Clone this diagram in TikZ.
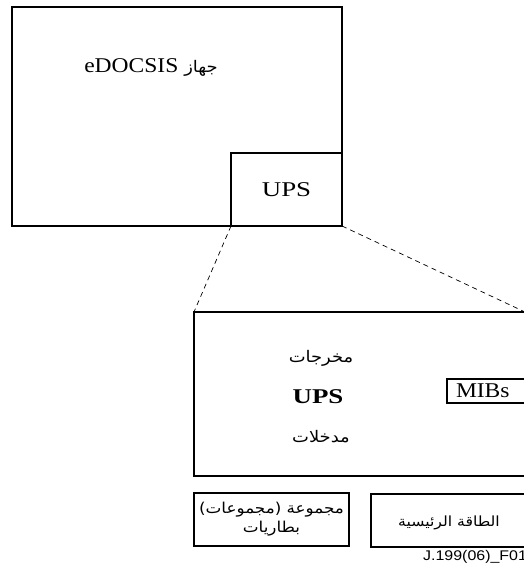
\documentclass[tikz,border=0pt]{standalone}
\usepackage{fontspec}
\setmainfont{Liberation Serif}[FakeStretch=1.12]
\newfontfamily\widefont{Liberation Serif}[FakeStretch=1.28]
\newfontfamily\arabicfont[Script=Arabic,FakeStretch=1.12]{DejaVu Sans}
\newfontfamily\labelfont{Liberation Sans}[FakeStretch=1.14]
\TeXXeTstate=1
\newcommand\ar[1]{{\arabicfont\fontsize{16}{19}\selectfont\beginR #1\endR}}
\usetikzlibrary{positioning}
\tikzset{
  box/.style={draw, line width=1.6pt, outer sep=0pt, inner sep=0pt},
  smallbox/.style={draw, line width=1.2pt, outer sep=0pt},
  zoomline/.style={line width=0.7pt, dash pattern=on 5pt off 4pt},
  txt/.style={font=\fontsize{21}{25}\selectfont, inner sep=0pt},
  upstxt/.style={font=\widefont\fontsize{21}{25}\selectfont, inner sep=0pt}
}

\begin{document}
\begin{tikzpicture}[x=1pt, y=-1pt]
		%%%%% START %%%%%
		\useasboundingbox (0, 0) rectangle (523, 572);
		
		% the device and its UPS
		\node[box, minimum width=330, minimum height=219] (dev) at (177, 116.5) {};
		\node[txt] (devname) at (151, 68) {eDOCSIS \ar{جهاز}};
		\node[box, upstxt, minimum width=111, minimum height=73] (ups) at (286.5, 189.5) {UPS};
		
		% enlarged UPS
		\node[box, minimum width=331, minimum height=164] (upsbox) at (359.5, 394) {};
		\node[txt] (out) at (321, 358) {\ar{مخرجات}};
		\node[upstxt, font=\widefont\bfseries\fontsize{21}{25}\selectfont] (upsname) at (318, 397) {UPS};
		\node[txt] (in) at (321, 437) {\ar{مدخلات}};
		\node[smallbox, txt, anchor=west, minimum height=24, text width=75, inner xsep=9pt, align=left] (mibs) at (447, 391) {MIBs};
		
		\draw[zoomline] (ups.south west) -- (upsbox.north west);
		\draw[zoomline] (ups.south east) -- (upsbox.north east);
		
		% power sources
		\node[box, minimum width=155, minimum height=53, align=center, font=\arabicfont\fontsize{15}{19}\selectfont] (batt) at (271.5, 519.5) {\beginR مجموعة (مجموعات)\endR\\\beginR بطاريات\endR};
		\node[box, minimum width=160, minimum height=53] (mains) at (451, 520.5) {};
		\node[inner sep=0pt, font=\arabicfont\fontsize{14}{17}\selectfont] (mainsname) at (449, 523) {\beginR الطاقة الرئيسية\endR};
		
		\node[font=\labelfont\fontsize{14}{16}\selectfont, anchor=west, inner sep=0pt] (fig) at (423, 557) {J.199(06)\_F01};
		%%%%% END %%%%%
\end{tikzpicture}
\end{document}
